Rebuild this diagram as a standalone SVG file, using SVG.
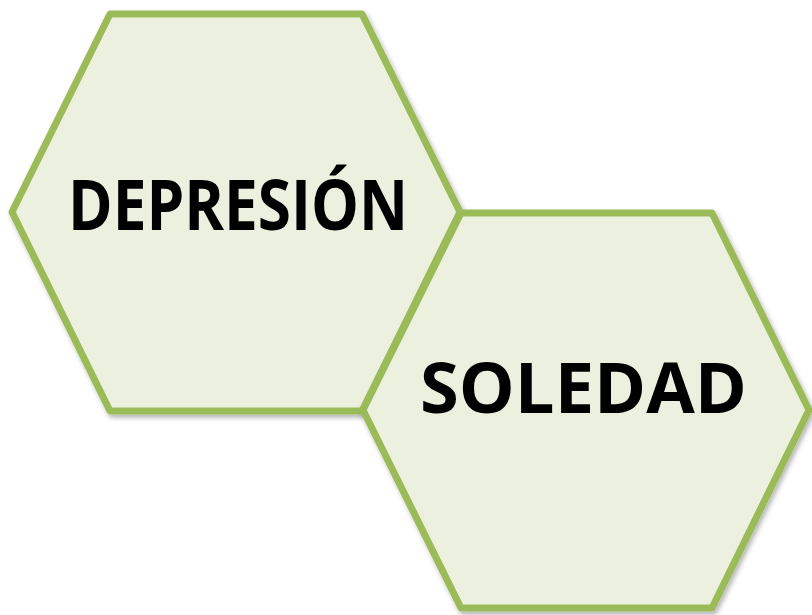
<svg xmlns="http://www.w3.org/2000/svg" width="812" height="615" viewBox="0 0 812 615">
<defs>
<filter id="sh" x="-5%" y="-5%" width="115%" height="115%">
<feDropShadow dx="2" dy="3" stdDeviation="2.5" flood-color="#000" flood-opacity="0.3"/>
</filter>
<style>
.hex{fill:#EBF1DE;stroke:#9BBB59;stroke-width:7;stroke-linejoin:round;filter:url(#sh)}
.lbl{font-family:"Open Sans","Liberation Sans",sans-serif;font-weight:bold;font-size:70px;fill:#000;text-anchor:middle}
</style>
</defs>
<rect width="812" height="615" fill="#fff"/>
<g id="depresion">
<polygon class="hex" points="110,14 362,14 460,212 362,411 110,411 12,212"/>
<text class="lbl" x="238" y="230" textLength="340" lengthAdjust="spacingAndGlyphs">DEPRESIÓN</text>
</g>
<g id="soledad">
<polygon class="hex" points="461,213 712,213 809,410 712,608 461,608 363,410"/>
<text class="lbl" x="583.5" y="413" textLength="327" lengthAdjust="spacingAndGlyphs">SOLEDAD</text>
</g>
<g id="connectors"/>
</svg>
